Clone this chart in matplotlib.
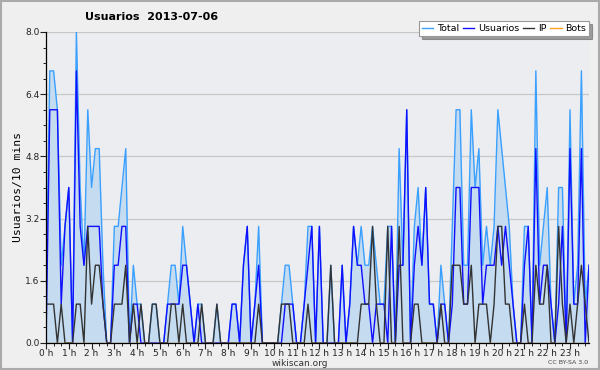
import numpy as np
import matplotlib
matplotlib.use("Agg")
import matplotlib.pyplot as plt
from matplotlib.patches import Rectangle
from matplotlib.ticker import MultipleLocator

# 10-minute slots, 2013-07-06
usuarios = [0, 6, 6, 6, 1, 3, 4, 0, 7, 3, 2, 3, 3, 3, 3, 1, 0, 0, 2, 2,
            3, 3, 0, 1, 1, 0, 0, 0, 0, 0, 0, 0, 1, 1, 1, 1, 2, 2, 1, 0,
            1, 0, 0, 0, 0, 0, 0, 0, 0, 1, 1, 0, 2, 3, 0, 1, 2, 0, 0, 0,
            0, 0, 0, 1, 1, 1, 0, 0, 1, 2, 3, 0, 3, 0, 0, 0, 0, 0, 2, 0,
            1, 3, 2, 2, 1, 1, 0, 1, 1, 1, 0, 3, 0, 2, 2, 6, 0, 2, 3, 2,
            4, 1, 1, 0, 1, 1, 0, 1, 4, 4, 1, 1, 4, 4, 4, 1, 2, 2, 2, 3,
            2, 3, 2, 1, 0, 0, 2, 3, 0, 5, 1, 2, 2, 1, 0, 1, 3, 0, 5, 1,
            1, 5, 0, 2]
ip = [1, 1, 1, 0, 1, 0, 0, 0, 1, 1, 0, 3, 1, 2, 2, 1, 0, 0, 1, 1,
      1, 2, 0, 1, 0, 1, 0, 0, 1, 1, 0, 0, 0, 1, 1, 0, 1, 0, 0, 0,
      0, 1, 0, 0, 0, 1, 0, 0, 0, 0, 0, 0, 0, 0, 0, 0, 1, 0, 0, 0,
      0, 0, 1, 1, 1, 0, 0, 0, 0, 1, 0, 0, 0, 0, 0, 2, 0, 0, 0, 0,
      0, 0, 0, 1, 1, 1, 3, 1, 0, 0, 3, 0, 0, 3, 0, 0, 0, 1, 1, 0,
      0, 0, 0, 0, 1, 0, 0, 2, 2, 2, 1, 1, 2, 0, 1, 1, 1, 0, 1, 3,
      3, 1, 1, 0, 0, 0, 1, 0, 0, 2, 1, 1, 2, 0, 0, 3, 1, 0, 1, 0,
      1, 2, 1, 0]
bots = [0] * 144
total = [u + i + b for u, i, b in zip(usuarios, ip, bots)]
hours = [f"{h} h" for h in range(24)]

x = np.arange(len(total))

fig = plt.figure(figsize=(6.0, 3.7), dpi=100, facecolor="#efefef")
ax = fig.add_axes([46 / 600, 1 - 343 / 370, 543 / 600, 311 / 370])
ax.set_facecolor("#ecedf0")

ax.fill_between(x, total, 0, color="#c4dbf0", lw=0)
ax.plot(x, total, color="#3aa0ff", lw=1.0, label="Total")
ax.plot(x, usuarios, color="#1010ff", lw=1.0, label="Usuarios")
ax.plot(x, ip, color="#333333", lw=1.0, label="IP")
ax.plot(x, bots, color="#ffa020", lw=1.0, label="Bots")

ax.set_xlim(0, len(total) - 1)
ax.set_ylim(0, 8)
ax.yaxis.set_major_locator(MultipleLocator(1.6))
ax.yaxis.set_minor_locator(MultipleLocator(0.4))
ax.set_yticklabels([f"{v:.1f}" for v in ax.get_yticks()])
ax.set_xticks(np.arange(0, 144, 6))
ax.set_xticklabels(hours)
ax.xaxis.set_minor_locator(MultipleLocator(2))
ax.tick_params(axis="both", which="major", labelsize=6.5, length=4, width=0.8,
               direction="out", pad=0.5, colors="#222222")
ax.tick_params(axis="both", which="minor", length=2.5, width=0.6, direction="out")
ax.grid(axis="y", color="#c8c8c8", lw=0.9)
ax.set_axisbelow(True)
for s in ["top", "right"]:
    ax.spines[s].set_visible(False)
ax.spines["left"].set_linewidth(0.9)
ax.spines["bottom"].set_linewidth(0.9)

ax.set_ylabel("Usuarios/10 mins", fontsize=8.2, family="DejaVu Sans Mono", labelpad=2)
fig.text(85 / 600, 1 - 17 / 370, "Usuarios  2013-07-06", fontsize=8, fontweight="bold",
         va="center", ha="left")
fig.text(300 / 600, 1 - 363 / 370, "wikiscan.org", fontsize=6.5,
         va="center", ha="center", color="#333333")
fig.text(588 / 600, 1 - 362 / 370, "CC BY-SA 3.0", fontsize=4.5, va="center",
         ha="right", color="#444444")

leg = ax.legend(loc="lower right", bbox_to_anchor=(589 / 600, 1 - 36 / 370),
                bbox_transform=fig.transFigure, ncol=4, fontsize=6.8, frameon=True,
                fancybox=False, shadow=True, handlelength=1.2, handletextpad=0.4,
                columnspacing=0.4, borderpad=0.3, borderaxespad=0)
leg.get_frame().set_edgecolor("#999999")
leg.get_frame().set_linewidth(0.8)

fig.patches.append(Rectangle((0.002, 0.003), 0.996, 0.994, transform=fig.transFigure,
                             fill=False, edgecolor="#aaaaaa", lw=1.5))

fig.savefig("out.png", dpi=100, facecolor=fig.get_facecolor())
